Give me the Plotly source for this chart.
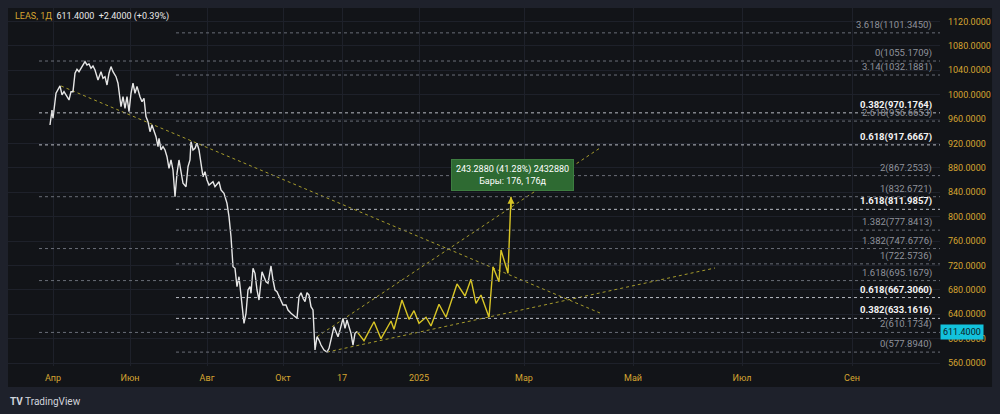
import plotly.graph_objects as go

# ---------------- data ----------------
# x = bar index along the time axis, y = price
price_x = [42, 44, 45, 48, 52, 54, 56, 59, 61, 63, 65, 67, 69, 71, 75, 77, 79, 81, 83, 85, 87, 90, 93, 95, 97, 99,
           101, 103, 105, 108, 110, 113, 115, 117, 119, 121, 123, 125, 127, 129, 132, 134, 136, 138, 140, 142, 144,
           146, 148, 150, 151, 153, 155, 157, 159, 161, 163, 165, 167, 169, 171, 173, 175, 178, 180, 182, 183, 185,
           187, 189, 191, 193, 195, 197, 199, 201, 205, 207, 211, 213, 216, 219, 221, 223, 225, 227, 229, 231, 232,
           234, 236, 238, 240, 242, 243, 245, 247, 249, 251, 254, 256, 258, 260, 263, 265, 267, 269, 271, 273, 275,
           278, 280, 283, 285, 288, 289, 291, 293, 295, 297, 299, 301, 303, 305, 307, 309, 311, 313, 316, 319, 321,
           324, 326, 328, 330, 332, 335, 337, 339, 341, 343, 345, 347, 349]
price_y = [950.3, 974.9, 961.3, 1002.3, 1014.3, 999.5, 1004.9, 996.7, 991.3, 1004.9, 1004.9, 1035.1, 1041.7, 1037.7,
           1048.7, 1054.1, 1048.7, 1050.4, 1043.3, 1047.1, 1040.5, 1024.1, 1037.7, 1026.9, 1029.5, 1015.9, 1035.1,
           1046.0, 1037.7, 1029.5, 1018.7, 980.3, 996.7, 977.7, 996.7, 972.1, 1002.3, 1018.7, 1002.3, 1013.6, 996.7,
           988.5, 994.1, 964.0, 955.7, 939.3, 950.3, 942.1, 931.1, 914.7, 928.5, 909.3, 914.7, 909.3, 898.3, 879.3,
           892.9, 876.5, 832.7, 871.1, 892.9, 873.7, 854.7, 849.1, 881.9, 892.9, 922.9, 909.3, 912.1, 920.3, 909.3,
           887.5, 865.5, 873.7, 860.1, 851.9, 857.3, 849.1, 857.3, 843.7, 838.3, 821.9, 799.9, 767.1, 717.9, 715.3,
           685.1, 701.5, 685.1, 652.3, 625.1, 641.5, 679.7, 685.1, 674.3, 715.3, 707.1, 679.7, 663.3, 709.7, 701.5,
           693.3, 690.7, 719.1, 696.1, 679.7, 676.9, 668.7, 660.5, 655.1, 655.1, 646.9, 641.5, 638.7, 633.3, 633.3,
           668.7, 675.3, 666.1, 660.5, 675.3, 671.5, 652.3, 646.9, 581.3, 603.1, 597.7, 589.5, 581.3, 577.9, 584.1,
           605.9, 619.5, 611.3, 603.1, 614.1, 633.3, 616.9, 630.5, 619.5, 608.7, 589.5, 608.7, 611.4]

proj_x = [349, 356, 366, 373, 383, 386, 394, 401, 406, 411, 418, 423, 431, 438, 449, 457, 463, 468, 473, 481, 485,
          491, 493, 500, 503]
proj_y = [611.4, 596.6, 627.7, 599.9, 628.9, 615.3, 663.3, 631.7, 645.8, 625.1, 635.0, 620.7, 656.3, 635.0, 689.6,
          669.9, 697.3, 657.9, 671.5, 635.0, 717.9, 693.3, 745.3, 707.1, 832.67]

trend_down_x = [53, 592]
trend_down_y = [1014.3, 642.0]
trend_low_x = [319, 707]
trend_low_y = [577.9, 715.8]
trend_up_x = [309, 592]
trend_up_y = [603.1, 912.6]

# Fibonacci set 1 (from the upper swing)
fib1_levels = ["0", "0.382", "0.618", "1", "1.382", "1.618", "2"]
fib1_values = [1055.1709, 970.1764, 917.6667, 832.6721, 747.6776, 695.1679, 610.1734]
fib1_start = 31
# Fibonacci set 2 (from the low)
fib2_levels = ["0", "0.382", "0.618", "1", "1.382", "1.618", "2", "2.618", "3.14", "3.618"]
fib2_values = [577.8940, 633.1616, 667.3060, 722.5736, 777.8413, 811.9857, 867.2533, 956.6653, 1032.1881, 1101.3450]
fib2_start = 168
bold_levels = {"0.382", "0.618"}
bold_levels2 = {"0.382", "0.618", "1.618"}

x_tick_vals = [45, 122, 199, 275, 334, 411, 516, 625, 734, 844]
x_tick_text = ["Апр", "Июн", "Авг", "Окт", "17", "2025", "Мар", "Май", "Июл", "Сен"]
y_tick_vals = list(range(560, 1121, 40))

last_price = 611.4
measure_text = "243.2880 (41.28%) 2432880<br>Бары: 176, 176д"

# ---------------- style ----------------
OUTER = "#1e212b"
PANEL = "#121418"
GRID = "#1e212a"
GOLD = "#d6a531"
YEL = "#d8c526"
TREND = "#a69b2c"
FONT = "Roboto, 'Noto Sans', sans-serif"
FS = 9

fig = go.Figure()

# trend lines
for tx, ty in [(trend_down_x, trend_down_y), (trend_low_x, trend_low_y), (trend_up_x, trend_up_y)]:
    fig.add_trace(go.Scatter(x=tx, y=ty, mode="lines", line=dict(color=TREND, width=1, dash="dot"),
                             hoverinfo="skip", showlegend=False))

fig.add_trace(go.Scatter(x=price_x, y=price_y, mode="lines", line=dict(color="#e6e6e6", width=1.4),
                         showlegend=False))
fig.add_trace(go.Scatter(x=proj_x, y=proj_y, mode="lines", line=dict(color=YEL, width=1.4),
                         showlegend=False))

shapes = []
annotations = []

# panel background
shapes.append(dict(type="rect", xref="paper", yref="paper", x0=0, x1=1.0558, y0=-0.0587, y1=1.0,
                   fillcolor=PANEL, line=dict(width=0), layer="below"))


def add_fib(levels, values, start, bolds):
    for lv, v in zip(levels, values):
        strong = lv in bolds
        shapes.append(dict(type="line", xref="x", yref="y", x0=start, x1=932, y0=v, y1=v,
                           line=dict(color="#b9bcc4" if strong else "#6a6e78", width=1, dash="dot"),
                           layer="above"))
        label = f"{lv}({v:.4f})"
        annotations.append(dict(xref="paper", yref="y", x=0.9936, y=v, xanchor="right", yanchor="middle",
                                yshift=8, showarrow=False,
                                text=f"<b>{label}</b>" if strong else label,
                                font=dict(family=FONT, size=FS + 0.5, color="#f2f2f2" if strong else "#8f929b")))


add_fib(fib1_levels, fib1_values, fib1_start, bold_levels)
add_fib(fib2_levels, fib2_values, fib2_start, bold_levels2)

# arrow head at the end of the projection
annotations.append(dict(x=proj_x[-1], y=proj_y[-1], xref="x", yref="y", ax=0, ay=14, showarrow=True,
                        arrowhead=2, arrowsize=1, arrowwidth=1.4, arrowcolor=YEL, text=""))

# measurement box
annotations.append(dict(x=504, y=868, xref="x", yref="y", showarrow=False, text=measure_text,
                        font=dict(family=FONT, size=FS, color="#ffffff"), bgcolor="#2e6a32",
                        bordercolor="#3d7d40", borderwidth=1, borderpad=4, align="center"))

# header
annotations.append(dict(xref="paper", yref="paper", x=0.0054, y=0.975, xanchor="left", yanchor="middle",
                        showarrow=False,
                        text=f"<span style='color:{GOLD}'>LEAS, 1Д</span>  611.4000  +2.4000 (+0.39%)",
                        font=dict(family=FONT, size=FS, color="#e8e8e8")))

# last price tag
annotations.append(dict(xref="paper", yref="y", x=1.0, y=last_price, xanchor="left", yanchor="middle",
                        showarrow=False, text=f"{last_price:.4f}", bgcolor="#12c2dc",
                        font=dict(family=FONT, size=FS, color="#0d1a24"), borderpad=2))

# TradingView logo
annotations.append(dict(xref="paper", yref="paper", x=0.0, y=-0.0978, xanchor="left", yanchor="middle",
                        showarrow=False, text="<b>TV</b> TradingView",
                        font=dict(family=FONT, size=10, color="#d1d4dc")))

fig.update_layout(
    width=1000, height=414,
    margin=dict(l=8, r=60, t=8, b=48),
    paper_bgcolor=OUTER, plot_bgcolor="rgba(0,0,0,0)",
    shapes=shapes, annotations=annotations,
    showlegend=False, hovermode=False,
    xaxis=dict(range=[0, 932], tickvals=x_tick_vals, ticktext=x_tick_text, showgrid=True, gridcolor=GRID,
               gridwidth=1, zeroline=False, showline=False, ticks="", ticklabelstandoff=5,
               tickfont=dict(family=FONT, size=FS, color=GOLD)),
    yaxis=dict(range=[555.1, 1142.1], side="right", tickvals=y_tick_vals, tickformat=".4f", showgrid=True,
               gridcolor=GRID, gridwidth=1, zeroline=False, showline=False, ticks="", ticklabelstandoff=7,
               tickfont=dict(family=FONT, size=FS, color=GOLD)),
)

fig.write_html("out.html")
